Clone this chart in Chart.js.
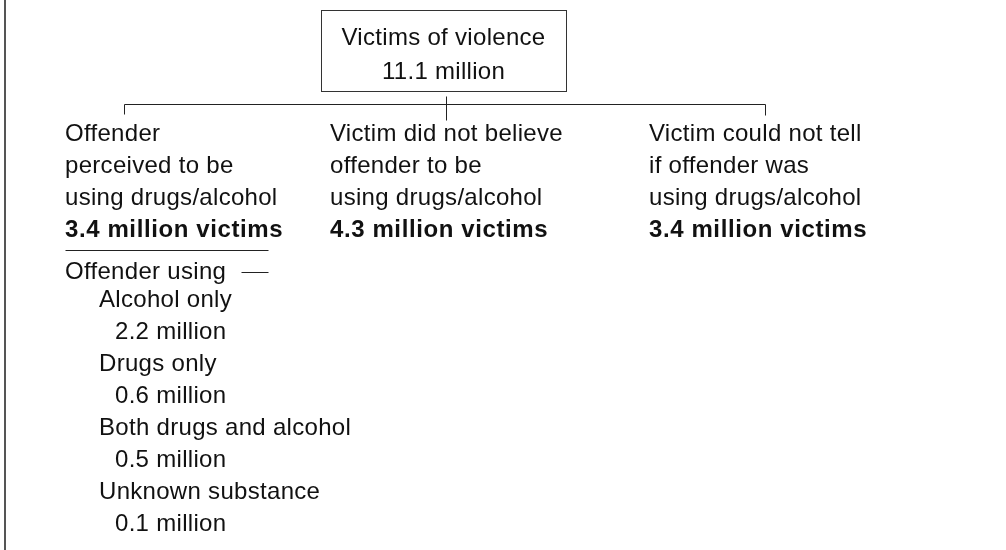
<!DOCTYPE html>
<html>
<head>
<meta charset="utf-8">
<script src="https://cdn.jsdelivr.net/npm/chart.js@4"></script>
<style>
  html, body { margin: 0; padding: 0; background: #fff; }
</style>
</head>
<body>
<canvas id="myChart" width="1006" height="550"></canvas>
<script>
// data
const rootTitle = "Victims of violence";
const rootTotal = 11.1;

const branchLines = [
  ["Offender", "perceived to be", "using drugs/alcohol"],
  ["Victim did not believe", "offender to be", "using drugs/alcohol"],
  ["Victim could not tell", "if offender was", "using drugs/alcohol"]
];
const branchVictims = [3.4, 4.3, 3.4];

const substanceHeading = "Offender using";
const substances = ["Alcohol only", "Drugs only", "Both drugs and alcohol", "Unknown substance"];
const substanceVictims = [2.2, 0.6, 0.5, 0.1];

const unit = " million";

// layout, in scale units (x 0..1006, y 0..550 from top)
const box = { left: 321, right: 566, top: 10, bottom: 91 };
const boxTextY = [38, 72];
const bus = { y: 104, left: 124, right: 765, mid: 446, midTop: 96, midBottom: 120, tick: 114 };
const branchX = [65, 330, 649];
const branchY0 = 134, rowStep = 32;
const subX = [99, 115];

const font = '"Liberation Sans", Arial, sans-serif';

const treePlugin = {
  id: "tree",
  afterDraw(chart) {
    const ctx = chart.ctx;
    const X = v => chart.scales.x.getPixelForValue(v);
    const Y = v => chart.scales.y.getPixelForValue(v);
    const px = v => Math.round(v) + 0.5;

    function line(x1, y1, x2, y2, color, w) {
      ctx.beginPath();
      ctx.strokeStyle = color || "#222";
      ctx.lineWidth = w || 1;
      ctx.moveTo(px(X(x1)), px(Y(y1)));
      ctx.lineTo(px(X(x2)), px(Y(y2)));
      ctx.stroke();
    }
    function text(str, x, y, bold, align) {
      ctx.font = (bold ? "bold " : "") + "24px " + font;
      ctx.letterSpacing = bold ? "0.6px" : "0.3px";
      ctx.fillStyle = "#111";
      ctx.textAlign = align || "left";
      ctx.textBaseline = "middle";
      ctx.fillText(str, X(x), Y(y));
    }

    ctx.save();
    // frame edge on the left
    ctx.fillStyle = "#555";
    ctx.fillRect(X(4), Y(0), 2, Y(550) - Y(0));

    // root box
    ctx.strokeStyle = "#333";
    ctx.lineWidth = 1;
    ctx.strokeRect(px(X(box.left)), px(Y(box.top)), X(box.right) - X(box.left), Y(box.bottom) - Y(box.top));
    const cx = (box.left + box.right) / 2;
    text(rootTitle, cx, boxTextY[0], false, "center");
    text(rootTotal.toFixed(1) + unit, cx, boxTextY[1], false, "center");

    // connectors
    line(bus.left, bus.y, bus.right, bus.y);
    line(bus.left, bus.y, bus.left, bus.tick);
    line(bus.right, bus.y, bus.right, bus.tick + 1);
    line(bus.mid, bus.midTop, bus.mid, bus.midBottom);

    // branches
    branchLines.forEach((lines, i) => {
      lines.forEach((s, j) => text(s, branchX[i], branchY0 + j * rowStep));
      text(branchVictims[i].toFixed(1) + unit + " victims", branchX[i], branchY0 + lines.length * rowStep, true);
    });

    // breakdown of first branch
    ctx.font = "bold 24px " + font;
    const ulEnd = 268;
    line(branchX[0], 250, ulEnd, 250);
    text(substanceHeading, branchX[0], 272);
    line(241, 272, ulEnd, 272);
    substances.forEach((s, i) => {
      const y = 300 + i * 2 * rowStep;
      text(s, subX[0], y);
      text(substanceVictims[i].toFixed(1) + unit, subX[1], y + rowStep);
    });
    ctx.restore();
  }
};

const chart = new Chart(document.getElementById("myChart"), {
  type: "scatter",
  data: { datasets: [] },
  options: {
    responsive: false,
    animation: false,
    layout: { padding: 0 },
    plugins: { legend: { display: false }, tooltip: { enabled: false } },
    scales: {
      x: { type: "linear", min: 0, max: 1006, display: false },
      y: { type: "linear", min: 0, max: 550, reverse: true, display: false }
    }
  },
  plugins: [treePlugin]
});
</script>
</body>
</html>
